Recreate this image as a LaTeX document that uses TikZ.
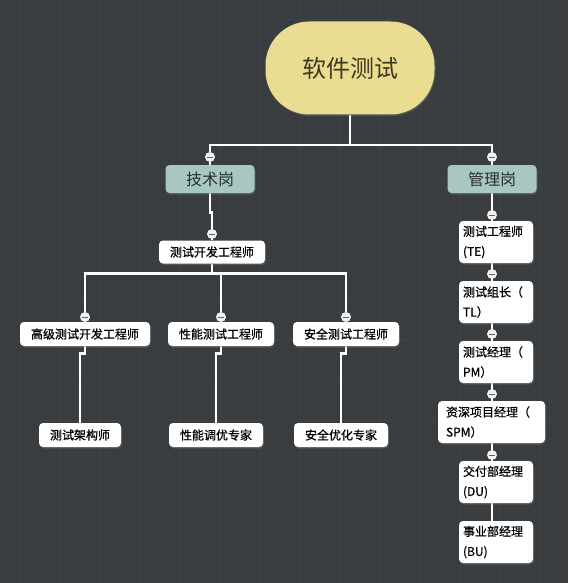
\documentclass[tikz,border=0pt]{standalone}
\usepackage{fontspec}
\newfontfamily\cjk{Noto Sans CJK SC}
\newfontfamily\cjkmed{Noto Sans CJK SC}[FakeBold=0.8]
\usetikzlibrary{positioning,shadows,backgrounds}
\definecolor{bgdark}{RGB}{58,61,63}
\definecolor{bggrid}{RGB}{64,67,69}
\definecolor{rootfill}{RGB}{234,221,146}
\definecolor{rootink}{RGB}{62,56,30}
\definecolor{catfill}{RGB}{168,199,194}
\definecolor{catink}{RGB}{38,48,48}
\definecolor{foldink}{RGB}{95,98,100}
\pgfdeclarelayer{paper}
\pgfsetlayers{paper,background,main}

\begin{document}
\begin{tikzpicture}[x=1pt, y=-1pt,
    shade/.style={drop shadow={opacity=0.35, shadow xshift=1pt, shadow yshift=-1.5pt}},
    rootbox/.style={fill=rootfill, rounded corners=44pt, minimum width=169pt, minimum height=93pt, font=\cjk\fontsize{24}{28}\selectfont, text=rootink, shade},
    catbox/.style={fill=catfill, rounded corners=4pt, minimum width=89pt, minimum height=28pt, font=\cjk\fontsize{16}{20}\selectfont, text=catink, shade},
    rolebox/.style={fill=white, rounded corners=4pt, minimum height=24pt, inner xsep=11pt, font=\cjkmed\fontsize{12}{14}\selectfont, shade},
    rankbox/.style={fill=white, rounded corners=4pt, minimum height=42pt, align=left, text width=66pt, inner xsep=4pt, font=\cjkmed\fontsize{12}{20}\selectfont, shade},
    link/.style={draw=white, line width=2.6pt},
    gridline/.style={draw=bggrid, line width=1pt},
    fold/.style={circle, fill=white!88!gray, minimum size=10pt, inner sep=0pt,
        path picture={\draw[foldink, line width=1pt] ([xshift=-3pt]path picture bounding box.center) -- ([xshift=3pt]path picture bounding box.center);}}
]
\useasboundingbox (0,0) rectangle (568,583);

% Paper
\begin{pgfonlayer}{paper}
\fill[bgdark] (0,0) rectangle (568,583);
\foreach \gx in {20,60,...,560} \draw[gridline] (\gx,0) -- (\gx,583);
\foreach \gy in {20,60,...,580} \draw[gridline] (0,\gy) -- (568,\gy);
\end{pgfonlayer}

% Root
\node[rootbox] (root) at (350,68) {软件测试};
\coordinate (rootbus) at (350,145);

% Two tracks
\node[catbox] (tech) at (210,179) {技术岗};
\node[catbox] (mgmt) at (492,179) {管理岗};
\node[fold] (techm) at (210,157) {};
\node[fold] (mgmtm) at (492,157) {};

% Technical track
\node[rolebox, minimum height=23pt] (dev) at (212,252) {测试开发工程师};
\node[fold] (devm) at (212,234) {};

\node[rolebox] (senior) at (85,334) {高级测试开发工程师};
\node[rolebox] (perf) at (221,334) {性能测试工程师};
\node[rolebox] (sec) at (346,334) {安全测试工程师};
\node[fold] (seniorm) at (85,317) {};
\node[fold] (perfm) at (221,317) {};
\node[fold] (secm) at (346,317) {};

\node[rolebox] (arch) at (80,435) {测试架构师};
\node[rolebox] (tune) at (216,435) {性能调优专家};
\node[rolebox] (secopt) at (341,435) {安全优化专家};

% Management track
\node[rankbox] (te) at (496,242) {测试工程师\\(TE)};
\node[rankbox] (tl) at (496,302) {测试组长（\\TL）};
\node[rankbox] (pm) at (496,362) {测试经理（\\PM）};
\node[rankbox, text width=91pt, inner xsep=8pt] (spm) at (491.5,422) {资深项目经理（\\SPM）};
\node[rankbox] (du) at (496,482) {交付部经理\\(DU)};
\node[rankbox] (bu) at (496,542) {事业部经理\\(BU)};
\node[fold] (tem) at (492,215) {};
\node[fold] (tlm) at (492,274) {};
\node[fold] (pmm) at (492,334) {};
\node[fold] (spmm) at (492,394) {};
\node[fold] (dum) at (492,455) {};

% Links
\begin{pgfonlayer}{background}
\draw[link] (root) -- (rootbus);
\draw[link] (techm) |- (rootbus) -| (mgmtm);
\draw[link] (techm) -- (tech);
\draw[link] (mgmtm) -- (mgmt);

\draw[link] (tech.south) -- ++(0,19) -| (devm);
\draw[link] (devm) -- (dev);
\draw[link] (dev.south) -- ++(0,10) coordinate (devbus);
\draw[link] (seniorm) |- (devbus) -| (secm);
\draw[link] (perfm) -- (perfm |- devbus);
\draw[link] (seniorm) -- (senior);
\draw[link] (perfm) -- (perf);
\draw[link] (secm) -- (sec);

\draw[link] (senior.south) -- ++(0,7) -| (arch);
\draw[link] (perf.south) -- ++(0,7) -| (tune);
\draw[link] (sec.south) -- ++(0,7) -| (secopt);

\draw[link] (mgmt) -- (mgmt |- bu);
\end{pgfonlayer}

\end{tikzpicture}
\end{document}
